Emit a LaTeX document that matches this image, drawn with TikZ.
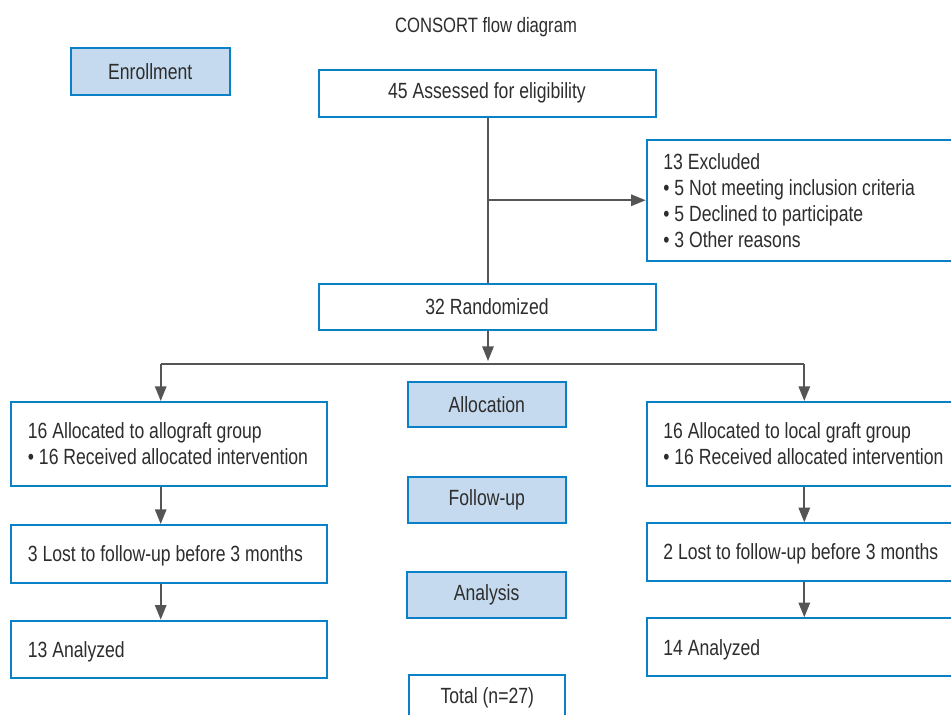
\documentclass[tikz,border=0pt]{standalone}
\usepackage{fontspec}
\setmainfont{Liberation Sans}[FakeStretch=0.8]
\usetikzlibrary{arrows.meta,calc}
\definecolor{bblue}{RGB}{10,128,198}
\definecolor{lblue}{RGB}{197,218,238}
\definecolor{cgray}{RGB}{85,85,85}
\definecolor{tgray}{RGB}{45,45,45}
\newcommand{\lefttext}[2]{\makebox[#1][l]{\raisebox{-2pt}[\height][\depth]{\begin{tabular}{@{}l@{}}#2\end{tabular}}}}
\begin{document}
\begin{tikzpicture}[x=0.75pt,y=-0.75pt,
  every node/.style={text=tgray, font=\fontsize{16.5}{19.5}\selectfont},
  wbox/.style={draw=bblue, line width=1.5pt, fill=white, inner sep=0pt},
  hbox/.style={draw=bblue, line width=1.5pt, fill=lblue, inner sep=0pt},
  lbox/.style={wbox, inner xsep=12.5pt, inner ysep=0pt},
  conn/.style={draw=cgray, line width=1.5pt},
  arr/.style={conn, -{Triangle[length=11pt,width=8.5pt]}}
]
\clip (0,0) rectangle (951,715);
\fill[white] (0,0) rectangle (951,715);

\node[font=\fontsize{15.6}{18}\selectfont] (title) at (486,27) {CONSORT flow diagram};

\node[hbox, minimum width=118.9pt, minimum height=34.9pt] (enroll) at (150.25,71.75) {Enrollment};
\node[wbox, minimum width=252.75pt, minimum height=34.9pt] (assess) at (487,93.25) {45 Assessed for eligibility};
\node[lbox, minimum height=91.1pt] (excl) at (800.85,200.25)
  {\lefttext{206.2pt}{13 Excluded\\ • 5 Not meeting inclusion criteria\\ • 5 Declined to participate\\ • 3 Other reasons}};
\node[wbox, minimum width=252.75pt, minimum height=34.5pt] (rand) at (487,307) {32 Randomized};

\node[hbox, minimum width=118.7pt, minimum height=34.2pt] (alloc) at (486.85,404.5) {Allocation};
\node[hbox, minimum width=118.7pt, minimum height=34.5pt] (follow) at (486.85,500) {Follow-up};
\node[hbox, minimum width=119pt, minimum height=34.3pt] (analysis) at (486.65,594.85) {Analysis};
\node[wbox, minimum width=117pt, minimum height=33.75pt] (total) at (487.3,697.5) {Total (n=27)};

\node[lbox, minimum height=62.8pt] (allo) at (169.15,443.85)
  {\lefttext{211.8pt}{16 Allocated to allograft group\\ • 16 Received allocated intervention}};
\node[lbox, minimum height=43.3pt] (lostL) at (169.15,553.85)
  {\lefttext{211.8pt}{3 Lost to follow-up before 3 months}};
\node[lbox, minimum height=43pt] (anaL) at (169.15,649.35)
  {\lefttext{211.8pt}{13 Analyzed}};

\node[lbox, minimum height=62.8pt] (local) at (800.85,443.85)
  {\lefttext{206.2pt}{16 Allocated to local graft group\\ • 16 Received allocated intervention}};
\node[lbox, minimum height=43.05pt] (lostR) at (800.85,552)
  {\lefttext{206.2pt}{2 Lost to follow-up before 3 months}};
\node[lbox, minimum height=43.3pt] (anaR) at (800.85,647.15)
  {\lefttext{206.2pt}{14 Analyzed}};

% connectors
\coordinate (vx) at (488,0);
\coordinate (hl) at (160.7,364);
\coordinate (hr) at (804.3,364);
\coordinate (hm) at (488,361);
\draw[conn] (assess.south -| vx) -- (rand.north -| vx);
\draw[arr] (vx |- excl.west) -- (excl.west);
\draw[arr] (rand.south -| vx) -- (hm);
\draw[conn] (hl) -- (hr);
\draw[arr] (hl) -- (hl |- allo.north);
\draw[arr] (hr) -- (hr |- local.north);
\draw[arr] (allo.south -| hl) -- (lostL.north -| hl);
\draw[arr] (lostL.south -| hl) -- (anaL.north -| hl);
\draw[arr] (local.south -| hr) -- (lostR.north -| hr);
\draw[arr] (lostR.south -| hr) -- (anaR.north -| hr);
\end{tikzpicture}
\end{document}
